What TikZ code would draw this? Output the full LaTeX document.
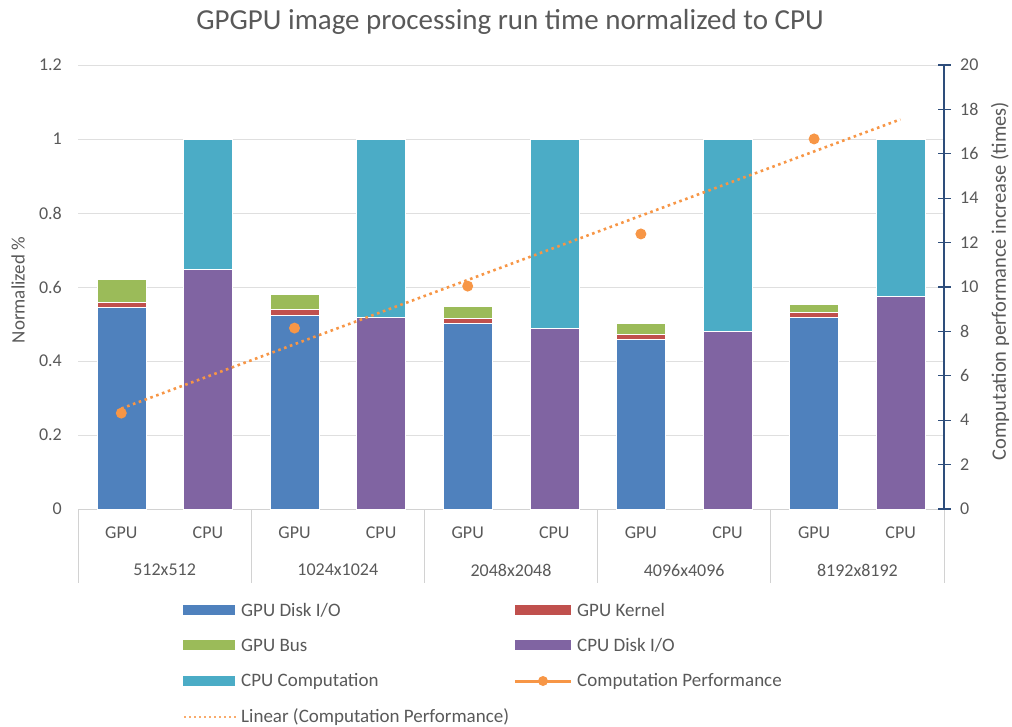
\documentclass[tikz,border=0pt]{standalone}
\usepackage{fontspec}
\setmainfont{Carlito}
\definecolor{txtgray}{HTML}{595959}
\definecolor{gpuio}{HTML}{4F81BD}
\definecolor{gpukern}{HTML}{C0504D}
\definecolor{gpubus}{HTML}{9BBB59}
\definecolor{cpuio}{HTML}{8064A2}
\definecolor{cpucomp}{HTML}{4BACC6}
\definecolor{perf}{HTML}{F79646}
\definecolor{axisblue}{HTML}{2E4D7B}
\tikzset{
  lbl/.style={font=\fontsize{18}{20}\selectfont, text=txtgray, inner sep=0pt},
  leglbl/.style={lbl, font=\fontsize{19}{21}\selectfont, anchor=west},
  bar/.style={draw=white, line width=0.5pt},
  gridline/.style={gray!25, line width=1pt},
  catline/.style={gray!35, line width=1pt},
  trend/.style={perf, line width=2.6pt, dash pattern=on 2.6pt off 3.6pt}
}
\begin{document}
\begin{tikzpicture}[x=1pt,y=-1pt]
\useasboundingbox (0,0) rectangle (1012,726);
% title
\node[lbl,font=\fontsize{29}{31}\selectfont] (title) at (510,22) {GPGPU image processing run time normalized to CPU};

% grid and left axis
\foreach \v/\t [count=\i] in {0.2/0.2,0.4/0.4,0.6/0.6,0.8/0.8,1/1,1.2/1.2}
  \draw[gridline] (78,{509-370*\v}) -- (944,{509-370*\v});
\foreach \v/\t [count=\i] in {0/0,0.2/0.2,0.4/0.4,0.6/0.6,0.8/0.8,1/1,1.2/1.2}
  \node[lbl,anchor=east] (yl\i) at (62,{509-370*\v}) {\t};
\node[lbl,rotate=90,font=\fontsize{19}{21}\selectfont] (ytitle) at (18,290) {Normalized \%};

% category axis
\draw[catline] (78,509) -- (944,509);
\foreach \k in {0,...,5}
  \draw[catline] ({78+173.2*\k},509) -- ({78+173.2*\k},583);

% stacked bars
\foreach \g/\b/\r/\u/\c/\s in {1/0.546/0.559/0.622/0.649/512x512,
                              2/0.524/0.541/0.581/0.519/1024x1024,
                              3/0.503/0.516/0.549/0.489/2048x2048,
                              4/0.459/0.473/0.503/0.481/4096x4096,
                              5/0.519/0.532/0.554/0.576/8192x8192}{
  \pgfmathsetmacro\xg{78+173.2*(\g-1)+43.3}
  \pgfmathsetmacro\xc{\xg+86.6}
  \fill[gpuio,bar] (\xg-24.5,509) rectangle (\xg+24.5,{509-370*\b});
  \fill[gpukern,bar] (\xg-24.5,{509-370*\b}) rectangle (\xg+24.5,{509-370*\r});
  \fill[gpubus,bar] (\xg-24.5,{509-370*\r}) rectangle (\xg+24.5,{509-370*\u});
  \fill[cpuio,bar] (\xc-24.5,509) rectangle (\xc+24.5,{509-370*\c});
  \fill[cpucomp,bar] (\xc-24.5,{509-370*\c}) rectangle (\xc+24.5,139);
  \node[lbl] (gpu\g) at (\xg,533) {GPU};
  \node[lbl] (cpu\g) at (\xc,533) {CPU};
  \node[lbl] (size\g) at (\xg+43.3,570) {\s};
}

% right axis
\draw[axisblue,line width=1.3pt] (944,65) -- (944,509);
\foreach \v in {0,2,...,20}{
  \draw[axisblue,line width=1.3pt] (938,{509-22.2*\v}) -- (951,{509-22.2*\v});
  \node[lbl,anchor=west] (yr\v) at (960,{509-22.2*\v}) {\v};
}
\node[lbl,rotate=90,font=\fontsize{20.5}{22}\selectfont] (y2title) at (1000,281) {Computation performance increase (times)};

% performance and linear trend
\coordinate (trendA) at (121.3,{509-22.2*4.526});
\coordinate (trendB) at (900.4,{509-22.2*17.55});
\draw[trend] (trendA) -- (trendB);
\foreach \g/\p in {1/4.32,2/8.15,3/10.04,4/12.39,5/16.67}
  \fill[perf] ({78+173.2*(\g-1)+43.3},{509-22.2*\p}) circle (5.5);

% legend
\fill[gpuio] (183,605) rectangle (235,615);
\node[leglbl] (leg1) at (241,610) {GPU Disk I/O};
\fill[gpukern] (515,605) rectangle (571,615);
\node[leglbl] (leg2) at (577,610) {GPU Kernel};
\fill[gpubus] (183,640) rectangle (235,650);
\node[leglbl] (leg3) at (241,645) {GPU Bus};
\fill[cpuio] (515,640) rectangle (571,650);
\node[leglbl] (leg4) at (577,645) {CPU Disk I/O};
\fill[cpucomp] (183,676) rectangle (235,686);
\node[leglbl] (leg5) at (241,681) {CPU Computation};
\draw[perf,line width=3pt] (515,681) -- (571,681);
\fill[perf] (543,681) circle (5);
\node[leglbl] (leg6) at (577,681) {Computation Performance};
\draw[trend,perf!80,line width=2pt,dash pattern=on 2pt off 3pt] (184,717) -- (236,717);
\node[leglbl] (leg7) at (241,717) {Linear (Computation Performance)};
\end{tikzpicture}
\end{document}
